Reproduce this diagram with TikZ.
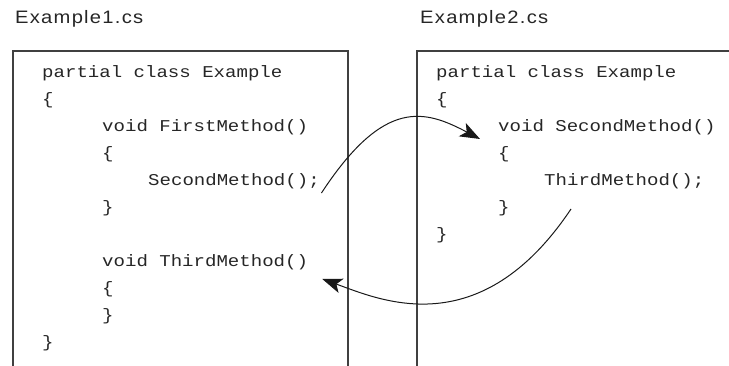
\documentclass[tikz,border=0pt]{standalone}
\usepackage{fontspec}
\usetikzlibrary{arrows.meta,calc}
\newfontfamily\codefont[FakeStretch=1.155]{Liberation Mono}
\newfontfamily\labelfont[FakeStretch=1.12,LetterSpace=7]{Liberation Sans}
\tikzset{
  code/.style={anchor=base west, inner sep=0pt, text=black!85, font=\codefont\fontsize{16.5}{16.5}\selectfont},
  filelabel/.style={anchor=base west, inner sep=0pt, text=black!85, font=\labelfont\fontsize{18}{18}\selectfont},
  frame/.style={line width=1.1pt, draw=black!75},
  callarrow/.style={line width=1pt, draw=black!90, -{Stealth[length=20pt,width=15pt,inset=5pt]}},
}
\begin{document}
\begin{tikzpicture}[x=1pt,y=-1pt]
\useasboundingbox (0,0) rectangle (729,366);
% frames
\draw[frame] (13,366) -- (13,51) -- (348,51) -- (348,366);
\draw[frame] (417,366) -- (417,51) -- (729,51);
% labels
\node[filelabel] (lab1) at (15,24) {Example1.cs};
\node[filelabel] (lab2) at (420,24) {Example2.cs};
% left code
\node[code] (l1) at (42,78) {partial class Example};
\node[code] (l2) at (42,105) {\{};
\node[code] (l3) at (102,132) {void FirstMethod()};
\node[code] (l4) at (102,159) {\{};
\node[code] (l5) at (148,186) {SecondMethod();};
\node[code] (l6) at (102,213) {\}};
\node[code] (l7) at (102,267) {void ThirdMethod()};
\node[code] (l8) at (102,294) {\{};
\node[code] (l9) at (102,321) {\}};
\node[code] (l10) at (42,348) {\}};
% right code
\node[code] (r1) at (436,78) {partial class Example};
\node[code] (r2) at (436,105) {\{};
\node[code] (r3) at (498,132) {void SecondMethod()};
\node[code] (r4) at (498,159) {\{};
\node[code] (r5) at (544,186) {ThirdMethod();};
\node[code] (r6) at (498,213) {\}};
\node[code] (r7) at (436,240) {\}};
% arrow ends
\coordinate (a1s) at ($(l5.base east)+(1.5,7)$);
\coordinate (a1e) at ($(r3.base west)+(-18,7)$);
\coordinate (a2s) at ($(r5.base west)+(27,23)$);
\coordinate (a2e) at ($(l7.base east)+(14,12)$);
% arrows
\draw[callarrow] (a1s) .. controls +(63,-96) and +(-55,-29) .. (a1e);
\draw[callarrow] (a2s) .. controls +(-91,136) and +(58,21) .. (a2e);
\end{tikzpicture}
\end{document}
